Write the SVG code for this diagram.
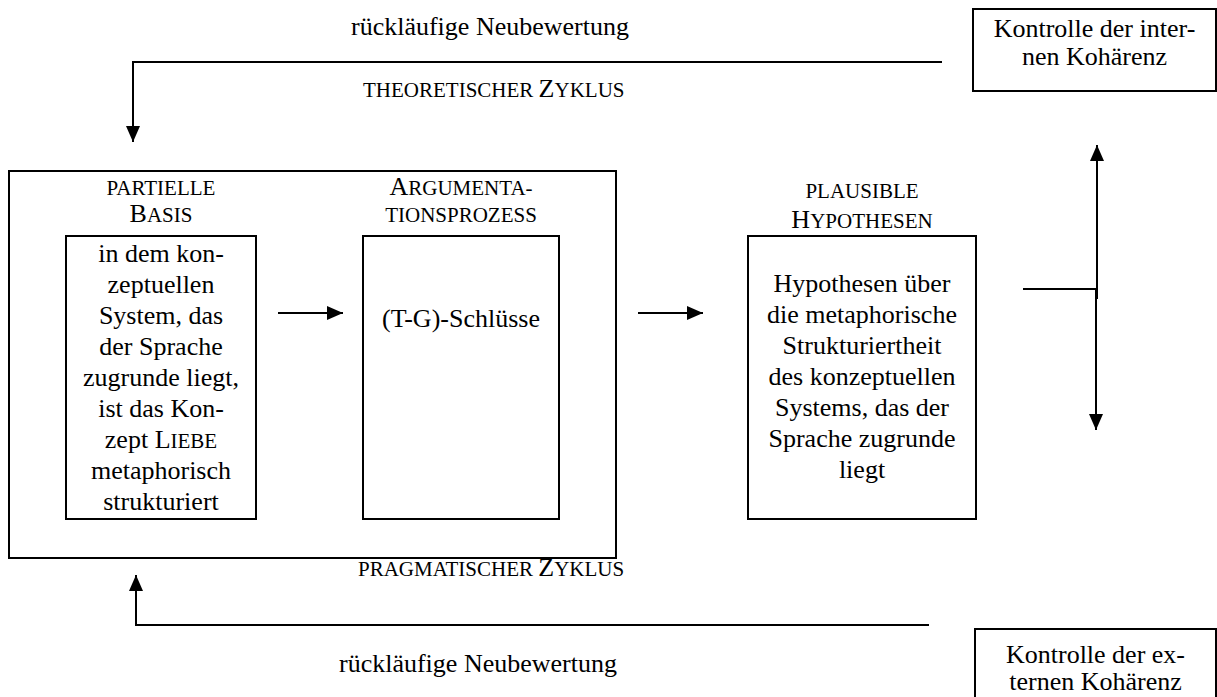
<svg xmlns="http://www.w3.org/2000/svg" width="1217" height="697" viewBox="0 0 1217 697">
<style>
text{font-family:"Liberation Serif","Times New Roman",serif;font-size:26px;fill:#000}
.c{text-anchor:middle}
.sc{font-size:21px}
.box{fill:none;stroke:#000;stroke-width:2}
.ln{fill:none;stroke:#000;stroke-width:2}
</style>
<defs>
<marker id="ah" viewBox="0 0 16 14" refX="16" refY="7" markerWidth="16" markerHeight="14" orient="auto" markerUnits="userSpaceOnUse">
<path d="M0,0 L16,7 L0,14 z" fill="#000"/>
</marker>
</defs>
<rect width="1217" height="697" fill="#fff"/>

<g id="label-top">
<text x="351" y="35">rückläufige Neubewertung</text>
<text x="363" y="97"><tspan class="sc">THEORETISCHER </tspan>Z<tspan class="sc">YKLUS</tspan></text>
</g>

<g id="node-intern">
<rect class="box" x="973" y="9" width="243" height="82"/>
<text class="c" x="1094.5" y="37">Kontrolle der inter-</text>
<text class="c" x="1094.5" y="65">nen Kohärenz</text>
</g>

<g id="node-group">
<rect class="box" x="9" y="171" width="607" height="387"/>
</g>

<g id="node-basis">
<text class="c sc" x="161" y="195">PARTIELLE</text>
<text class="c" x="161" y="222">B<tspan class="sc">ASIS</tspan></text>
<rect class="box" x="66" y="236" width="190" height="283"/>
<text class="c" x="161" y="262">in dem kon-</text>
<text class="c" x="161" y="293">zeptuellen</text>
<text class="c" x="161" y="324">System, das</text>
<text class="c" x="161" y="355">der Sprache</text>
<text class="c" x="161" y="386">zugrunde liegt,</text>
<text class="c" x="161" y="417">ist das Kon-</text>
<text class="c" x="161" y="448">zept L<tspan class="sc">IEBE</tspan></text>
<text class="c" x="161" y="479">metaphorisch</text>
<text class="c" x="161" y="510">strukturiert</text>
</g>

<g id="node-argument">
<text class="c" x="461" y="195">A<tspan class="sc">RGUMENTA-</tspan></text>
<text class="c sc" x="461" y="222">TIONSPROZESS</text>
<rect class="box" x="363" y="236" width="196" height="283"/>
<text class="c" x="461" y="327">(T-G)-Schlüsse</text>
</g>

<g id="node-hypothesen">
<text class="c sc" x="862" y="198">PLAUSIBLE</text>
<text class="c" x="862" y="228">H<tspan class="sc">YPOTHESEN</tspan></text>
<rect class="box" x="748" y="236" width="228" height="283"/>
<text class="c" x="862" y="292">Hypothesen über</text>
<text class="c" x="862" y="323">die metaphorische</text>
<text class="c" x="862" y="354">Strukturiertheit</text>
<text class="c" x="862" y="385">des konzeptuellen</text>
<text class="c" x="862" y="416">Systems, das der</text>
<text class="c" x="862" y="447">Sprache zugrunde</text>
<text class="c" x="862" y="478">liegt</text>
</g>

<g id="label-bottom">
<text x="358" y="576"><tspan class="sc">PRAGMATISCHER </tspan>Z<tspan class="sc">YKLUS</tspan></text>
<text x="339" y="672">rückläufige Neubewertung</text>
</g>

<g id="node-extern">
<rect class="box" x="975" y="629" width="241" height="90"/>
<text class="c" x="1095.5" y="663">Kontrolle der ex-</text>
<text class="c" x="1095.5" y="690">ternen Kohärenz</text>
</g>

<g id="connectors">
<path class="ln" d="M942,62 H133 V142" marker-end="url(#ah)"/>
<path class="ln" d="M929,625 H136 V575" marker-end="url(#ah)"/>
<path class="ln" d="M278,313 H343" marker-end="url(#ah)"/>
<path class="ln" d="M638,313 H703" marker-end="url(#ah)"/>
<path class="ln" d="M1023,289 H1097"/>
<path class="ln" d="M1097,299 V145" marker-end="url(#ah)"/>
<path class="ln" d="M1096,289 V430" marker-end="url(#ah)"/>
</g>
</svg>
